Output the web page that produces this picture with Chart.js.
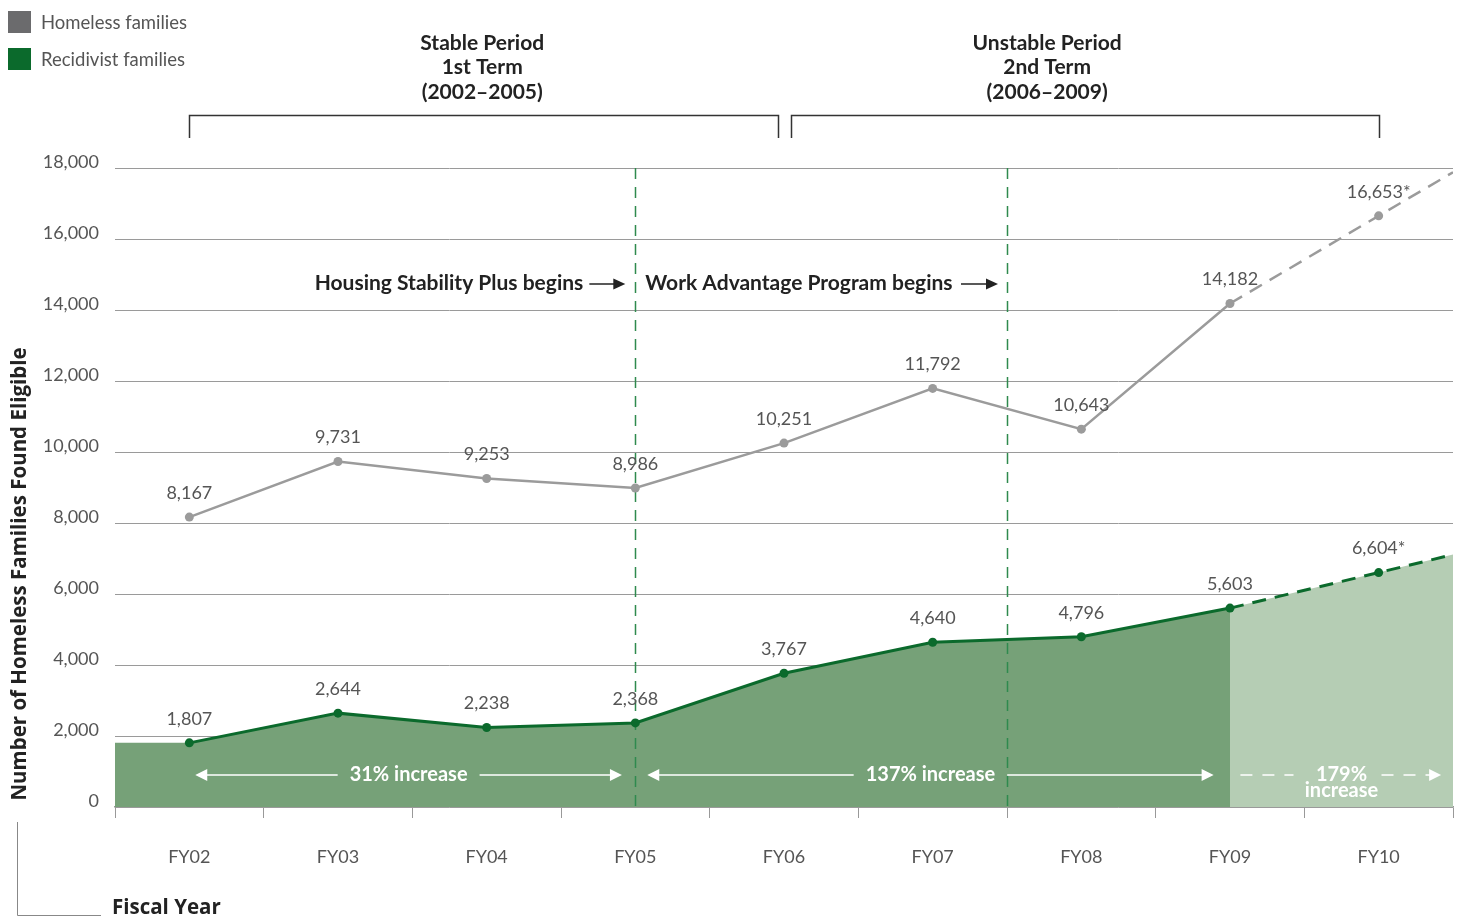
<!DOCTYPE html>
<html>
<head>
<meta charset="utf-8">
<script src="https://cdn.jsdelivr.net/npm/chart.js@4.4.1/dist/chart.umd.min.js"></script>
<style>
  html, body { margin: 0; padding: 0; background: #fff; overflow: hidden; }
  #wrap { width: 1457px; height: 918px; position: relative; }
  canvas { display: block; }
</style>
</head>
<body>
<div id="wrap"><canvas id="chart" width="1457" height="918"></canvas></div>
<script>
const fiscalYears = ['FY02', 'FY03', 'FY04', 'FY05', 'FY06', 'FY07', 'FY08', 'FY09', 'FY10'];
const homelessFamilies = [8167, 9731, 9253, 8986, 10251, 11792, 10643, 14182, 16653];
const recidivistFamilies = [1807, 2644, 2238, 2368, 3767, 4640, 4796, 5603, 6604];
// FY10 is a projection (marked with *), the dashed trend runs on to the right edge
const projectedFrom = 7;
const homelessEdgeValue = 17880;
const recidivistEdgeValue = 7110;
const legendItems = ['Homeless families', 'Recidivist families'];

const GRAY = '#9b9b9b';
const GREEN = '#0b6a2c';
const AREA_DARK = '#76a178';
const AREA_LIGHT = '#b5cdb4';
const TEXT = '#555';
const BOLD_FONT = 'Lato, "Open Sans", sans-serif';

const toPoints = (vals) => vals.map((v, i) => ({ x: i + 0.5, y: v }));
const lastX = fiscalYears.length;

const homelessLine = toPoints(homelessFamilies).concat([{ x: lastX, y: homelessEdgeValue }]);
const recidivistLine = toPoints(recidivistFamilies).concat([{ x: lastX, y: recidivistEdgeValue }]);
const areaActual = [{ x: 0, y: recidivistFamilies[0] }].concat(toPoints(recidivistFamilies).slice(0, projectedFrom + 1));
const areaProjected = toPoints(recidivistFamilies).slice(projectedFrom).concat([{ x: lastX, y: recidivistEdgeValue }]);

const dashAfter = (ctx) => ctx.p0DataIndex >= projectedFrom ? [14, 9] : undefined;
const pointR = (ctx) => ctx.dataIndex < fiscalYears.length ? 4.5 : 0;

function arrowHead(ctx, x, y, dir, len, half) {
    ctx.beginPath();
    ctx.moveTo(x, y);
    ctx.lineTo(x - dir * len, y - half);
    ctx.lineTo(x - dir * len, y + half);
    ctx.closePath();
    ctx.fill();
}

const decorations = {
    id: 'decorations',
    beforeDatasetsDraw(chart) {
        this._vertDone = false;
    },
    beforeDatasetDraw(chart, args) {
        if (this._vertDone || !chart.data.datasets[args.index].isTrend) return;
        this._vertDone = true;
        const { ctx, chartArea, scales: { x } } = chart;
        ctx.save();
        ctx.strokeStyle = '#2f8a4e';
        ctx.lineWidth = 1.5;
        ctx.setLineDash([11, 8]);
        [3.5, 6].forEach(v => {
            const px = Math.round(x.getPixelForValue(v)) + 0.5;
            ctx.beginPath();
            ctx.moveTo(px, chartArea.top);
            ctx.lineTo(px, chartArea.bottom);
            ctx.stroke();
        });
        ctx.restore();
    },
    afterDraw(chart) {
        const { ctx, scales: { x } } = chart;
        ctx.save();

        // legend
        const legendColors = ['#6b6b6d', GREEN];
        legendItems.forEach((label, i) => {
            const top = 11 + i * 37;
            ctx.fillStyle = legendColors[i];
            ctx.fillRect(8, top, 23, 22);
            ctx.fillStyle = TEXT;
            ctx.font = '18.5px Lato, sans-serif';
            ctx.textAlign = 'left';
            ctx.textBaseline = 'middle';
            ctx.fillText(label, 41, top + 12);
        });

        // period headings and brackets
        ctx.fillStyle = '#222';
        ctx.font = 'bold 21px ' + BOLD_FONT;
        ctx.textAlign = 'center';
        ctx.textBaseline = 'middle';
        const periods = [
            { from: 0.5, to: 4.46, textAt: 2.47, lines: ['Stable Period', '1st Term', '(2002\u20132005)'] },
            { from: 4.55, to: 8.5, textAt: 6.27, lines: ['Unstable Period', '2nd Term', '(2006\u20132009)'] }
        ];
        ctx.strokeStyle = '#333';
        ctx.lineWidth = 1.5;
        periods.forEach(p => {
            const x0 = Math.round(x.getPixelForValue(p.from)) + 0.5;
            const x1 = Math.round(x.getPixelForValue(p.to)) + 0.5;
            const tx = x.getPixelForValue(p.textAt);
            p.lines.forEach((t, i) => ctx.fillText(t, tx, 43 + i * 24.5));
            ctx.beginPath();
            ctx.moveTo(x0, 138);
            ctx.lineTo(x0, 115.5);
            ctx.lineTo(x1, 115.5);
            ctx.lineTo(x1, 138);
            ctx.stroke();
        });

        // program start notes
        const v1 = x.getPixelForValue(3.5);
        const v2 = x.getPixelForValue(6);
        const noteY = 283;
        ctx.fillStyle = '#222';
        ctx.strokeStyle = '#222';
        ctx.textAlign = 'right';
        ctx.fillText('Housing Stability Plus begins', v1 - 52, noteY);
        ctx.textAlign = 'left';
        ctx.fillText('Work Advantage Program begins', v1 + 10, noteY);
        [[v1 - 46, v1 - 10], [v2 - 46, v2 - 9]].forEach(([a, b]) => {
            ctx.beginPath();
            ctx.moveTo(a, noteY + 1);
            ctx.lineTo(b - 8, noteY + 1);
            ctx.stroke();
            arrowHead(ctx, b, noteY + 1, 1, 12, 5.5);
        });

        // increase arrows
        const incY = 775;
        ctx.fillStyle = '#fff';
        ctx.strokeStyle = '#fff';
        ctx.lineWidth = 1.5;
        ctx.font = 'bold 20px ' + BOLD_FONT;
        ctx.textAlign = 'center';
        const spans = [
            { from: 0.54, to: 3.41, label: '31% increase' },
            { from: 3.58, to: 7.39, label: '137% increase' }
        ];
        spans.forEach(s => {
            const a = x.getPixelForValue(s.from);
            const b = x.getPixelForValue(s.to);
            const mid = (a + b) / 2;
            const half = ctx.measureText(s.label).width / 2 + 12;
            ctx.fillText(s.label, mid, incY);
            ctx.beginPath();
            ctx.moveTo(a + 10, incY);
            ctx.lineTo(mid - half, incY);
            ctx.moveTo(mid + half, incY);
            ctx.lineTo(b - 10, incY);
            ctx.stroke();
            arrowHead(ctx, a, incY, -1, 12, 6);
            arrowHead(ctx, b, incY, 1, 12, 6);
        });
        const pa = x.getPixelForValue(7.57);
        const pb = x.getPixelForValue(8.92);
        const pm = x.getPixelForValue(8.25);
        ctx.fillText('179%', pm, incY);
        ctx.fillText('increase', pm, incY + 16);
        ctx.setLineDash([12, 10]);
        ctx.beginPath();
        ctx.moveTo(pa, incY);
        ctx.lineTo(pm - 48, incY);
        ctx.moveTo(pm + 40, incY);
        ctx.lineTo(pb - 10, incY);
        ctx.stroke();
        ctx.setLineDash([]);
        arrowHead(ctx, pb, incY, 1, 12, 6);

        // value labels
        ctx.font = '18px Lato, sans-serif';
        ctx.fillStyle = TEXT;
        ctx.textAlign = 'center';
        ctx.textBaseline = 'middle';
        chart.data.datasets.forEach((ds, di) => {
            if (!ds.isTrend) return;
            const meta = chart.getDatasetMeta(di);
            ds.values.forEach((v, i) => {
                const pt = meta.data[i];
                const star = i === ds.values.length - 1 ? '*' : '';
                ctx.fillText(v.toLocaleString('en-US') + star, pt.x, pt.y - 24);
            });
        });

        // axis titles
        ctx.fillStyle = '#222';
        ctx.font = 'bold 20.5px "Open Sans", sans-serif';
        ctx.save();
        ctx.translate(20, 574);
        ctx.rotate(-Math.PI / 2);
        ctx.textAlign = 'center';
        ctx.fillText('Number of Homeless Families Found Eligible', 0, 0);
        ctx.restore();
        ctx.textAlign = 'left';
        ctx.fillText('Fiscal Year', 112, 908);
        ctx.strokeStyle = '#888';
        ctx.lineWidth = 1;
        ctx.beginPath();
        ctx.moveTo(17.5, 822);
        ctx.lineTo(17.5, 915.5);
        ctx.lineTo(101, 915.5);
        ctx.stroke();

        ctx.restore();
    }
};

new Chart(document.getElementById('chart'), {
    type: 'line',
    data: {
        datasets: [
            {
                isTrend: true, values: homelessFamilies,
                data: homelessLine, borderColor: GRAY, backgroundColor: GRAY,
                borderWidth: 2.5, pointRadius: pointR, pointBackgroundColor: GRAY, pointBorderWidth: 0,
                segment: { borderDash: dashAfter }, order: 0, fill: false
            },
            {
                isTrend: true, values: recidivistFamilies,
                data: recidivistLine, borderColor: GREEN, backgroundColor: GREEN,
                borderWidth: 3, pointRadius: pointR, pointBackgroundColor: GREEN, pointBorderWidth: 0,
                segment: { borderDash: dashAfter }, order: 0, fill: false
            },
            {
                data: areaActual, borderWidth: 0, pointRadius: 0,
                backgroundColor: AREA_DARK, fill: 'origin', order: 1
            },
            {
                data: areaProjected, borderWidth: 0, pointRadius: 0,
                backgroundColor: AREA_LIGHT, fill: 'origin', order: 1
            }
        ]
    },
    options: {
        responsive: false,
        animation: false,
        layout: { padding: { top: 168, right: 4, bottom: 0, left: 0 }, autoPadding: false },
        plugins: { legend: { display: false }, tooltip: { enabled: false } },
        elements: { line: { tension: 0 } },
        scales: {
            x: {
                type: 'linear', min: 0, max: lastX,
                afterFit: (s) => { s.height = 111; s.paddingLeft = 0; s.paddingRight = 0; },
                border: { display: true, color: '#999', width: 1.5 },
                grid: {
                    drawOnChartArea: false, drawTicks: true, tickLength: 11,
                    color: (c) => Number.isInteger(c.tick.value) ? '#999' : 'rgba(0,0,0,0)'
                },
                ticks: {
                    stepSize: 0.5, autoSkip: false, maxRotation: 0, padding: 28,
                    color: TEXT, font: { family: 'Lato, sans-serif', size: 18 },
                    callback: (v) => Number.isInteger(v) ? '' : fiscalYears[Math.floor(v)]
                }
            },
            y: {
                min: 0, max: 18000, z: 1,
                afterFit: (s) => { s.width = 115; s.paddingTop = 0; s.paddingBottom = 0; },
                border: { display: false },
                grid: { color: '#9a9a9a', lineWidth: 1, drawTicks: false },
                ticks: {
                    stepSize: 2000, padding: 16, color: TEXT, labelOffset: -6,
                    font: { family: 'Lato, sans-serif', size: 18 },
                    callback: (v) => v.toLocaleString('en-US')
                }
            }
        }
    },
    plugins: [decorations]
});
</script>
</body>
</html>
